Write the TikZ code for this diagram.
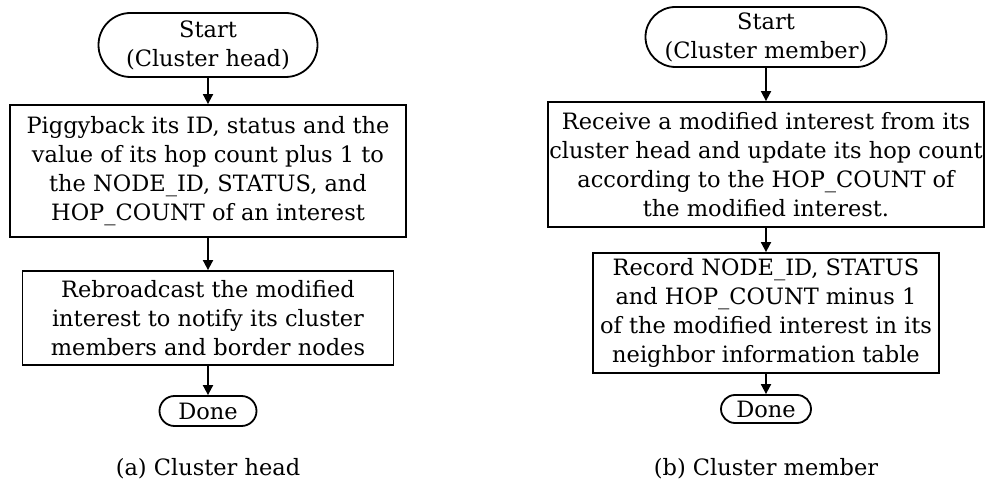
\documentclass[tikz,border=0pt]{standalone}
\usepackage{fontspec}
\setmainfont{DejaVu Serif}
\usetikzlibrary{positioning,arrows.meta,shapes.misc}

\newcommand{\flowfont}{\fontsize{22.5}{29}\selectfont}

\begin{document}
\begin{tikzpicture}[
  x=1pt, y=-1pt,
  >={Triangle[length=10pt,width=10pt]},
  term/.style={draw, rounded rectangle, line width=1.8pt, inner sep=0pt, align=center, font=\flowfont},
  proc/.style={draw, line width=1.8pt, inner sep=0pt, align=center, font=\flowfont},
  edge/.style={->, line width=1.8pt},
  figcaption/.style={font=\flowfont}
]
  \useasboundingbox (0,0) rectangle (987,486);

  % (a) cluster head
  \node[term, minimum width=219pt, minimum height=64pt] (starta) at (208,45) {Start\\(Cluster head)};
  \node[proc, minimum width=396pt, minimum height=132pt] (piggy) at (208,171)
    {Piggyback its ID, status and the\\value of its hop count plus 1 to\\the NODE\_ID, STATUS, and\\HOP\_COUNT of an interest};
  \node[proc, minimum width=371pt, minimum height=94pt] (rebroad) at (208,318)
    {Rebroadcast the modified\\interest to notify its cluster\\members and border nodes};
  \node[term, minimum width=97pt, minimum height=30pt] (donea) at (208,411) {Done};
  \node[figcaption] (capa) at (208,469) {(a) Cluster head};

  \draw[edge] (starta) -- (piggy);
  \draw[edge] (piggy) -- (rebroad);
  \draw[edge] (rebroad) -- (donea);

  % (b) cluster member
  \node[term, minimum width=241pt, minimum height=60pt] (startb) at (766,37) {Start\\(Cluster member)};
  \node[proc, minimum width=436pt, minimum height=125pt] (recv) at (766,164.5)
    {Receive a modified interest from its\\cluster head and update its hop count\\according to the HOP\_COUNT of\\the modified interest.};
  \node[proc, minimum width=346pt, minimum height=120pt] (record) at (766,313)
    {Record NODE\_ID, STATUS\\and HOP\_COUNT minus 1\\of the modified interest in its\\neighbor information table};
  \node[term, minimum width=90pt, minimum height=28pt] (doneb) at (766,409) {Done};
  \node[figcaption] (capb) at (766,469) {(b) Cluster member};

  \draw[edge] (startb) -- (recv);
  \draw[edge] (recv) -- (record);
  \draw[edge] (record) -- (doneb);
\end{tikzpicture}
\end{document}
